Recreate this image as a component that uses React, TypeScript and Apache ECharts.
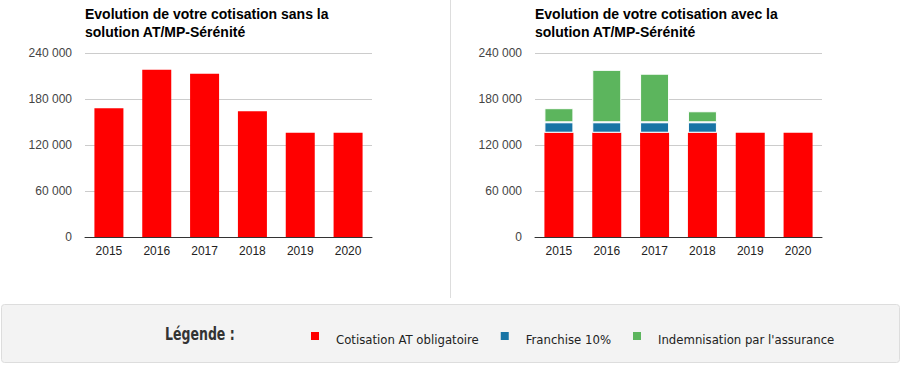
import React, { useEffect, useRef } from "react";
import * as echarts from "echarts";

const years = ["2015", "2016", "2017", "2018", "2019", "2020"];
const totalSansSolution = [168000, 218000, 213000, 164000, 136000, 136000];
const cotisationObligatoire = [136000, 136000, 136000, 136000, 136000, 136000];
const franchise10 = [13600, 13600, 13600, 13600, null, null];
const indemnisation = [18400, 68400, 63400, 14400, null, null];
const yMin = 0;
const yMax = 240000;
const yStep = 60000;

const seriesNames = ["Cotisation AT obligatoire", "Franchise 10%", "Indemnisation par l'assurance"];
const titles = [
  "Evolution de votre cotisation sans la\nsolution AT/MP-Sérénité",
  "Evolution de votre cotisation avec la\nsolution AT/MP-Sérénité",
];

const RED = "#ff0000";
const BLUE = "#1874a5";
const GREEN = "#5cb55d";
const FONT = "'Liberation Sans', Arial, sans-serif";
const COND = "'DejaVu Sans Condensed', 'DejaVu Sans', sans-serif";

const fmt = (v: number) => String(v).replace(/\B(?=(\d{3})+(?!\d))/g, " ");

// square drawn at the top of a taller (invisible) box so it sits above the text centre
const LEGEND_ICON = "path://M0,0L8,0L8,8L0,8Z M0,14L0.01,14L0.01,14.01Z";

export default function App() {
  const ref = useRef<HTMLDivElement>(null);
  useEffect(() => {
    if (!ref.current) return;
    const chart = echarts.init(ref.current, null, { renderer: "svg" });
    const gridLefts = [85, 535];
    const xAxis = gridLefts.map((_, i) => ({
      type: "category",
      gridIndex: i,
      data: years,
      axisTick: { show: false },
      axisLine: { lineStyle: { color: "#333", width: 1 } },
      axisLabel: { color: "#222", fontSize: 12, fontFamily: FONT, margin: 8 },
    }));
    const yAxis = gridLefts.map((_, i) => ({
      type: "value",
      gridIndex: i,
      min: yMin,
      max: yMax,
      interval: yStep,
      axisLine: { show: false },
      axisTick: { show: false },
      splitLine: { lineStyle: { color: "#cccccc", width: 1 } },
      axisLabel: { color: "#444", fontSize: 12, fontFamily: FONT, margin: 13, formatter: fmt },
    }));
    chart.setOption({
      animation: false,
      backgroundColor: "#fff",
      title: titles.map((t, i) => ({
        text: t,
        left: gridLefts[i],
        top: 5,
        padding: 0,
        textStyle: { fontSize: 14, fontWeight: "bold", color: "#000", fontFamily: FONT, lineHeight: 18 },
      })),
      grid: gridLefts.map((l) => ({ left: l, top: 53, width: 287, height: 184 })),
      xAxis,
      yAxis,
      legend: {
        data: seriesNames,
        left: 311,
        top: 332,
        padding: 0,
        icon: LEGEND_ICON,
        itemWidth: 8,
        itemHeight: 14,
        itemGap: 22,
        selectedMode: false,
        itemStyle: { borderWidth: 0 },
        textStyle: {
          fontFamily: COND,
          fontSize: 13,
          color: "#222",
          padding: [0, 0, 0, 12],
        },
      },
      graphic: [
        {
          type: "line",
          shape: { x1: 450.5, y1: 0, x2: 450.5, y2: 298 },
          style: { stroke: "#dddddd", lineWidth: 1 },
          silent: true,
          z: -10,
        },
        {
          type: "rect",
          shape: { x: 1.5, y: 304.5, width: 898, height: 58, r: 3 },
          style: { fill: "#f3f3f3", stroke: "#dddddd", lineWidth: 1 },
          silent: true,
          z: -10,
        },
        {
          type: "text",
          x: 165,
          y: 335,
          scaleX: 0.82,
          style: {
            text: "Légende :",
            fontFamily: COND,
            fontWeight: "bold",
            fontSize: 17,
            fill: "#333",
            verticalAlign: "middle",
          },
          silent: true,
        },
      ],
      series: [
        {
          name: seriesNames[0],
          type: "bar",
          xAxisIndex: 0,
          yAxisIndex: 0,
          data: totalSansSolution,
          barWidth: 29,
          itemStyle: { color: RED },
        },
        {
          name: seriesNames[0],
          type: "bar",
          xAxisIndex: 1,
          yAxisIndex: 1,
          stack: "avec",
          data: cotisationObligatoire,
          barWidth: 29,
          itemStyle: { color: RED },
        },
        {
          name: seriesNames[1],
          type: "bar",
          xAxisIndex: 1,
          yAxisIndex: 1,
          stack: "avec",
          data: franchise10,
          barWidth: 29,
          itemStyle: { color: BLUE, borderColor: "#fff", borderWidth: 1 },
        },
        {
          name: seriesNames[2],
          type: "bar",
          xAxisIndex: 1,
          yAxisIndex: 1,
          stack: "avec",
          data: indemnisation,
          barWidth: 29,
          itemStyle: { color: GREEN, borderColor: "#fff", borderWidth: 1 },
        },
      ],
    });
    return () => chart.dispose();
  }, []);
  return (
    <div
      ref={ref}
      style={{ position: "fixed", left: 0, top: 0, width: 903, height: 366 }}
    />
  );
}
